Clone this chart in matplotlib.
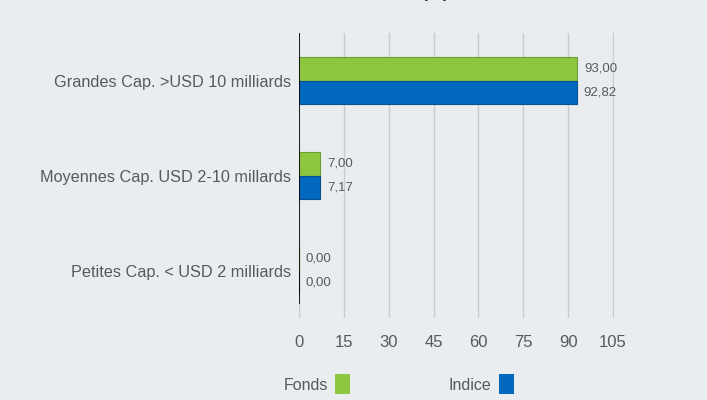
import matplotlib
matplotlib.use("Agg")
import matplotlib.pyplot as plt
from matplotlib.patches import Rectangle

categories = ["Grandes Cap. >USD 10 milliards",
              "Moyennes Cap. USD 2-10 millards",
              "Petites Cap. < USD 2 milliards"]
fonds = [93.00, 7.00, 0.00]
indice = [92.82, 7.17, 0.00]
xticks = [0, 15, 30, 45, 60, 75, 90, 105]

bg = "#e9edf0"
green = "#8dc63f"
blue = "#0069bf"
txt = "#555a60"

plt.rcParams['font.family'] = ['Liberation Sans', 'DejaVu Sans']

fig = plt.figure(figsize=(7.07, 4.0), dpi=100, facecolor=bg)
W, H = 707, 400
ax = fig.add_axes([299 / W, 1 - 318 / H, (614 - 299) / W, (318 - 33) / H])
ax.set_facecolor(bg)

n = len(categories)
ys = list(range(n))
h = 0.25
for i, y in enumerate(ys):
    ax.barh(y - h / 2, fonds[i], height=h, color=green, edgecolor="#6f9e32", linewidth=0.8, zorder=3)
    ax.barh(y + h / 2, indice[i], height=h, color=blue, edgecolor="#0a4f8f", linewidth=0.8, zorder=3)
    ax.text(fonds[i] + 2.3, y - h / 2, f"{fonds[i]:.2f}".replace(".", ","),
            va="center", ha="left", fontsize=9.5, color=txt)
    ax.text(indice[i] + 2.3, y + h / 2, f"{indice[i]:.2f}".replace(".", ","),
            va="center", ha="left", fontsize=9.5, color=txt)

ax.set_ylim(n - 0.5, -0.5)
ax.set_xlim(0, 105.3)
ax.set_xticks(xticks)
ax.set_xticklabels([str(t) for t in xticks], fontsize=12, color=txt)
ax.set_yticks(ys)
ax.set_yticklabels(categories, fontsize=11.7, color=txt)
ax.tick_params(axis="both", length=0, pad=6)
ax.tick_params(axis="x", pad=12)
ax.grid(axis="x", color="#c8cccf", linewidth=1, zorder=0)
for s in ax.spines.values():
    s.set_visible(False)
ax.axvline(0, ymin=0.045, ymax=1, color="black", linewidth=1.2, zorder=4)
ax.axvline(0, ymin=0, ymax=0.045, color="#c8cccf", linewidth=1.5, zorder=4)

# legend
fig.text(328 / W, 1 - 385 / H, "Fonds", ha="right", va="center", fontsize=11.5, color=txt)
fig.patches.append(Rectangle((335 / W, 1 - 394 / H), 15 / W, 20 / H, transform=fig.transFigure,
                             facecolor=green, edgecolor="none"))
fig.text(491 / W, 1 - 385 / H, "Indice", ha="right", va="center", fontsize=11.5, color=txt)
fig.patches.append(Rectangle((499 / W, 1 - 394 / H), 15 / W, 20 / H, transform=fig.transFigure,
                             facecolor=blue, edgecolor="none"))

# partially visible title at top (cut off as in the reference)
fig.text(435 / W, 1 + 3 / H, "(%)", ha="center", va="baseline", fontsize=13,
         color="#333333", fontweight="bold")

fig.savefig("out.png", dpi=100, facecolor=bg)
